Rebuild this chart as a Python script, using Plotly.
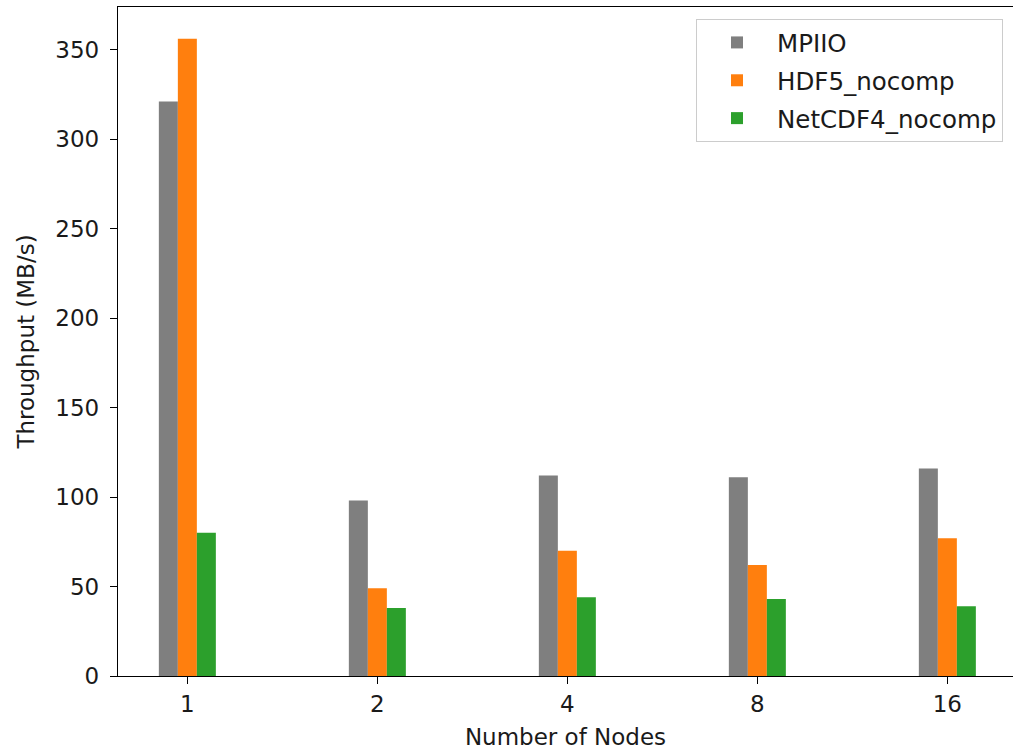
import plotly.graph_objects as go

nodes = ["1", "2", "4", "8", "16"]
mpiio = [321, 98, 112, 111, 116]
hdf5_nocomp = [356, 49, 70, 62, 77]
netcdf4_nocomp = [80, 38, 44, 43, 39]

series_names = ["MPIIO", "HDF5_nocomp", "NetCDF4_nocomp"]
series_colors = ["#7f7f7f", "#ff7f0e", "#2ca02c"]
series_values = [mpiio, hdf5_nocomp, netcdf4_nocomp]

W, H = 1013, 751
L, R, T, B = 118, 0, 7, 75
PLOT_W = W - L - R

fig = go.Figure()
for name, color, vals in zip(series_names, series_colors, series_values):
    fig.add_trace(go.Bar(x=nodes, y=vals, name=name, legendgroup=name,
                         marker=dict(color=color, line=dict(width=0))))

font = dict(family="DejaVu Sans", size=23, color="#1a1a1a")

fig.update_layout(
    width=W, height=H,
    margin=dict(l=L, r=R, t=T, b=B, pad=0, autoexpand=False),
    paper_bgcolor="white", plot_bgcolor="white",
    barmode="group", bargap=0.7, bargroupgap=0,
    font=font,
    showlegend=True,
    legend=dict(
        x=(1003 - L) / PLOT_W, xanchor="right",
        y=(H - B - 19) / (H - B - T), yanchor="top",
        bordercolor="#cccccc", borderwidth=1, bgcolor="white",
        font=dict(family="DejaVu Sans", size=24.5, color="#1a1a1a"),
        traceorder="grouped", tracegroupgap=3,
        itemwidth=70,
    ),
    xaxis=dict(
        type="category",
        range=[-0.365, -0.365 + PLOT_W / 190.0],
        showline=True, linecolor="black", linewidth=1.3, mirror=True,
        ticks="outside", ticklen=7, tickwidth=1.3, tickcolor="black",
        showgrid=False, zeroline=False,
        ticklabelstandoff=0,
        title=dict(text="Number of Nodes", font=font, standoff=13),
    ),
    yaxis=dict(
        range=[0, 373.8],
        tickvals=[0, 50, 100, 150, 200, 250, 300, 350],
        showline=True, linecolor="black", linewidth=1.3, mirror=False,
        ticks="outside", ticklen=7, tickwidth=1.3, tickcolor="black",
        showgrid=False, zeroline=False,
        ticklabelstandoff=6,
        title=dict(text="Throughput (MB/s)", font=font, standoff=14),
    ),
)

fig.write_html(
    "out.html",
    config={"displayModeBar": False},
    post_script=(
        "document.body.style.margin='0px';"
        "document.body.style.overflow='hidden';"
        "document.documentElement.style.overflow='hidden';"
    ),
)
